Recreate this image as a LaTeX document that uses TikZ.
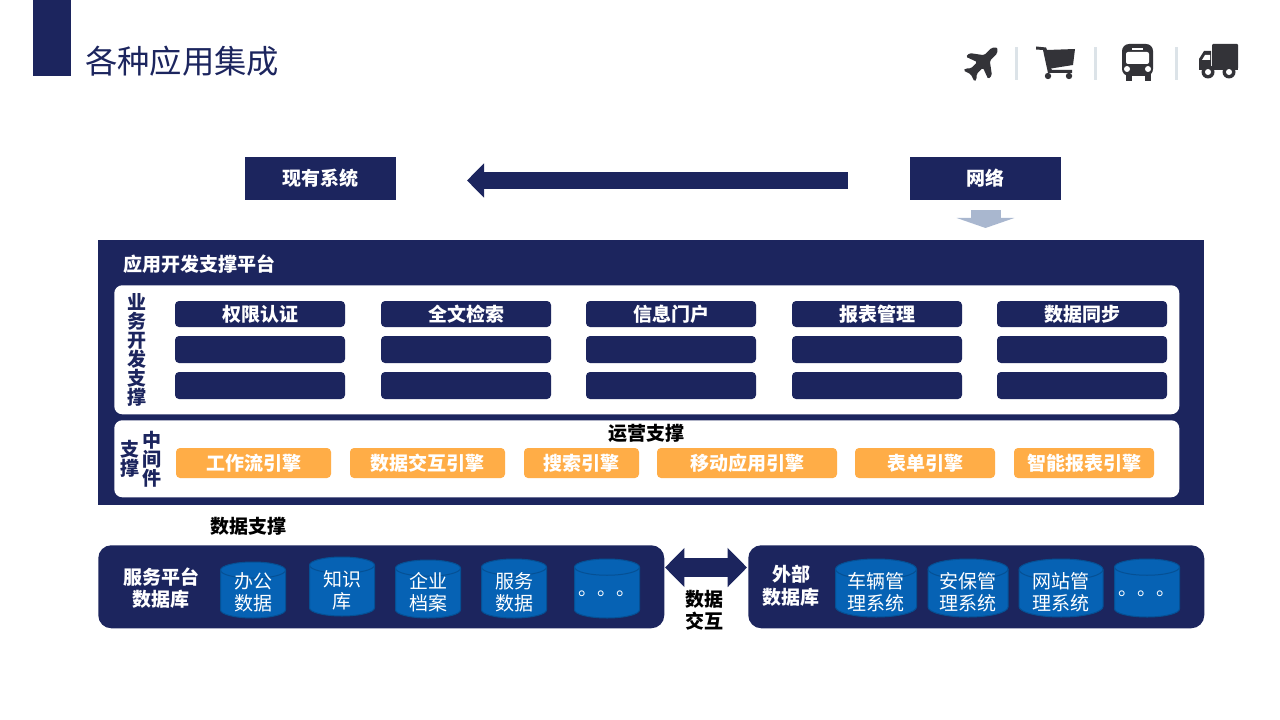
\documentclass[tikz,border=0pt]{standalone}
\usepackage{fontspec}
\setmainfont{Noto Sans CJK SC}
\usetikzlibrary{arrows.meta}
\definecolor{navy}{HTML}{1C255E}
\definecolor{amber}{HTML}{FFAD47}
\definecolor{dbblue}{HTML}{0662B4}
\definecolor{paleblue}{HTML}{A9B7CF}
\definecolor{icongray}{HTML}{333338}
\definecolor{sepgray}{HTML}{DCE3E8}
\newcommand{\px}[1]{#1*0.75pt}
\tikzset{
  titlebox/.style={fill=navy,text=white,font=\bfseries\fontsize{14.25}{17}\selectfont,minimum width=\px{151},minimum height=\px{43},inner sep=0pt},
  slotbox/.style={fill=navy,rounded corners=\px{4},text=white,font=\bfseries\fontsize{14.25}{17}\selectfont,minimum width=\px{170},inner sep=0pt},
  enginebox/.style={fill=amber,rounded corners=\px{4},text=white,font=\bfseries\fontsize{14.25}{17}\selectfont,minimum height=\px{30},inner sep=0pt},
  whitepanel/.style={fill=white,rounded corners=\px{8},anchor=north west,inner sep=0pt},
  datapanel/.style={fill=navy,rounded corners=\px{13},anchor=north west,inner sep=0pt,minimum height=\px{83}},
  plainlabel/.style={text=black,font=\bfseries\fontsize{14.25}{16.5}\selectfont,align=center,inner sep=0pt},
  sidelabel/.style={text=navy,font=\bfseries\fontsize{14.25}{14.25}\selectfont,align=center,inner sep=0pt},
  panellabel/.style={text=white,font=\bfseries\fontsize{14.25}{17}\selectfont,align=center,inner sep=0pt},
  dbshape/.style={fill=dbblue,draw=dbblue!82!black,line width=\px{1}},
  dbtext/.style={text=white,font=\fontsize{14.25}{16.75}\selectfont,align=center,inner sep=0pt},
  blockarrow/.style={line width=\px{#1}},
  icon/.style={fill=icongray}
}
\begin{document}
\begin{tikzpicture}[x=0.75pt,y=-0.75pt]
  \useasboundingbox (0,0) rectangle (1280,720);
  % header
  \fill [navy] (33,0) rectangle (71,76);
  \node (title) [anchor=west,text=navy,font=\fontsize{24.25}{28}\selectfont,inner sep=0pt] at (85,61) {各种应用集成};
  % icons
  \begin{scope}[shift={(982,63)},rotate=-45,scale=0.88]
    \fill [icon,rounded corners=\px{1.5}] (0,-25) -- (4.5,-20) -- (4.5,-8) -- (18,2) -- (18,8) -- (4.5,3) -- (4.5,13) -- (9,18) -- (9,21) -- (0,18) -- (-9,21) -- (-9,18) -- (-4.5,13) -- (-4.5,3) -- (-18,8) -- (-18,2) -- (-4.5,-8) -- (-4.5,-20) -- cycle;
  \end{scope}
  \fill [sepgray] (1015,47) rectangle (1018,80);
  \fill [sepgray] (1094,47) rectangle (1097,80);
  \fill [sepgray] (1175,47) rectangle (1178,80);
  \fill [icon] (1036,46.5) -- (1046,47.5) -- (1047,50) -- (1075,49) -- (1073,65) -- (1051,68.5) -- (1052,70) -- (1072,70) -- (1072,73) -- (1048,73) -- (1043,50) -- (1036,49.5) -- cycle;
  \fill [icon] (1048,76) circle (3.2);
  \fill [icon] (1069,76) circle (3.2);
  \fill [icon,rounded corners=\px{7}] (1122,44) rectangle (1153,76);
  \fill [icon] (1126,74) rectangle (1132,81);
  \fill [icon] (1145,74) rectangle (1151,81);
  \fill [white,rounded corners=\px{2}] (1126,52) rectangle (1149,64);
  \fill [white] (1132,48.5) rectangle (1143,50.5);
  \fill [white] (1127,69) circle (3);
  \fill [white] (1148,69) circle (3);
  \fill [icon,rounded corners=\px{1}] (1212,44) rectangle (1238,69);
  \fill [icon] (1199,70) -- (1199,59) -- (1204,51) -- (1211,51) -- (1211,70) -- cycle;
  \fill [white] (1202,60) -- (1205,55) -- (1210,55) -- (1210,60) -- cycle;
  \fill [icon] (1199,66) rectangle (1238,70);
  \fill [icon] (1208,72) circle (6.5);
  \fill [icon] (1229,72) circle (6.5);
  \fill [white] (1208,72) circle (3);
  \fill [white] (1229,72) circle (3);
  % top row
  \node (legacy) [titlebox] at (320.5,178.5) {现有系统};
  \node (network) [titlebox] at (985.5,178.5) {网络};
  \coordinate (bigtail) at (848,180.5);
  \coordinate (bigtip) at (467,180.5);
  \draw [navy,blockarrow=17,-{Triangle[length=12.75pt,width=25pt]}] (bigtail) -- (bigtip);
  \coordinate (downtail) at (985.5,210);
  \coordinate (downtip) at (985.5,228);
  \draw [paleblue,blockarrow=30,-{Triangle[length=7.5pt,width=43pt]}] (downtail) -- (downtip);
  % platform
  \node (platform) [fill=navy,anchor=north west,inner sep=0pt,minimum width=\px{1106},minimum height=\px{265}] at (98,240) {};
  \node (platformname) [anchor=west,text=white,font=\bfseries\fontsize{14.25}{17}\selectfont,inner sep=0pt] at (123,264) {应用开发支撑平台};
  \node (bizpanel) [whitepanel,minimum width=\px{1065},minimum height=\px{129}] at (114,285) {};
  \node (midpanel) [whitepanel,minimum width=\px{1065},minimum height=\px{77}] at (114,420) {};
  \node (bizlabel) [sidelabel] at (137,350) {业\\务\\开\\发\\支\\撑};
  \node (midlabel) [sidelabel] at (152,459.5) {中\\间\\件};
  \node (sublabel) [sidelabel] at (130,458.5) {支\\撑};
  \node (opslabel) [plainlabel] at (646,433) {运营支撑};
  % business slots
  \foreach \name/\cx/\txt in {a/260/权限认证,b/466/全文检索,c/671/信息门户,d/877/报表管理,e/1082/数据同步}{
    \node (slot\name1) [slotbox,minimum height=\px{26}] at (\cx,314) {\txt};
    \node (slot\name2) [slotbox,minimum height=\px{27}] at (\cx,349.5) {};
    \node (slot\name3) [slotbox,minimum height=\px{27}] at (\cx,385.5) {};
  }
  % engines
  \node (flow) [enginebox,minimum width=\px{155}] at (253.5,463) {工作流引擎};
  \node (exchange) [enginebox,minimum width=\px{155}] at (427.5,463) {数据交互引擎};
  \node (search) [enginebox,minimum width=\px{115}] at (581.5,463) {搜索引擎};
  \node (mobile) [enginebox,minimum width=\px{180}] at (747,463) {移动应用引擎};
  \node (form) [enginebox,minimum width=\px{140}] at (925,463) {表单引擎};
  \node (report) [enginebox,minimum width=\px{140}] at (1084,463) {智能报表引擎};
  % data layer
  \node (datalabel) [plainlabel] at (248,526) {数据支撑};
  \node (srvpanel) [datapanel,minimum width=\px{566}] at (98,545) {};
  \node (extpanel) [datapanel,minimum width=\px{456}] at (748,545) {};
  \node (srvname) [panellabel] at (161,588) {服务平台\\数据库};
  \node (extname) [panellabel] at (791,586) {外部\\数据库};
  \foreach \name/\cx/\dbtop/\dbbot/\dbw/\ty/\txt in {office/253/562/618/65/592.5/{办公\\数据},wiki/342/557/616/65/590.5/{知识\\库},archive/428/560/618/65/592/{企业\\档案},service/514/559/618/65/592/{服务\\数据},srvmore/607/559/618/65/594/{。。。},vehicle/876/559/617/81/592/{车辆管\\理系统},security/968/559/617/80/592/{安保管\\理系统},website/1061/559/617/84/592/{网站管\\理系统},extmore/1147/559/617/65/594/{。。。}}{
    \pgfmathsetmacro{\rx}{\dbw/2}
    \pgfmathsetmacro{\ry}{\dbw*0.125}
    \draw [dbshape] ({\cx-\rx},{\dbtop+\ry}) arc [x radius=\px{\rx},y radius=\px{\ry},start angle=180,end angle=0] -- ({\cx+\rx},{\dbbot-\ry}) arc [x radius=\px{\rx},y radius=\px{\ry},start angle=0,end angle=-180] -- cycle;
    \draw [dbshape,fill=none] ({\cx-\rx},{\dbtop+\ry}) arc [x radius=\px{\rx},y radius=\px{\ry},start angle=180,end angle=360];
    \node (\name) [dbtext] at (\cx,\ty) {\txt};
  }
  \coordinate (swapleft) at (665,567.5);
  \coordinate (swapright) at (747,567.5);
  \draw [navy,blockarrow=19,{Triangle[length=14.5pt,width=28.5pt]}-{Triangle[length=14.5pt,width=28.5pt]}] (swapleft) -- (swapright);
  \node (swaplabel) [plainlabel] at (704,610) {数据\\交互};
\end{tikzpicture}
\end{document}
